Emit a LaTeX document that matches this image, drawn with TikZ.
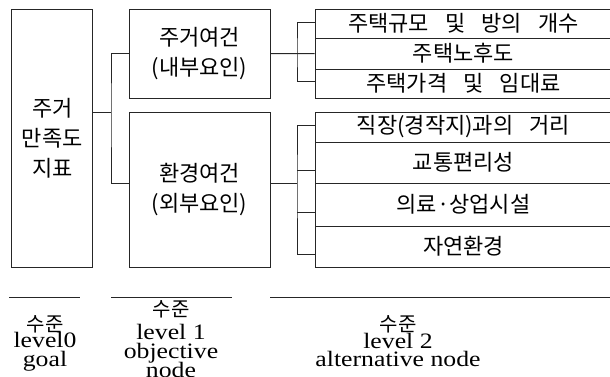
\documentclass[tikz,border=0pt]{standalone}
\usepackage{fontspec}
\newfontfamily\kr{Noto Sans CJK KR}[WordSpace=3.3]
\newfontfamily\lat{Liberation Serif}[FakeStretch=1.17]
\begin{document}
\begin{tikzpicture}[x=1pt,y=-1pt,
  ln/.style={draw=black!85,line width=1pt},
  bx/.style={ln,rectangle,inner sep=0pt,align=center,font=\kr\fontsize{22}{30}\selectfont},
  kl/.style={inner sep=0pt,anchor=base,font=\kr\fontsize{20}{20}\selectfont},
  ll/.style={inner sep=0pt,anchor=base,font=\lat\fontsize{22}{22}\selectfont}]
\useasboundingbox (0,0) rectangle (610,376);
% level 0
\node[bx,minimum width=81.3pt,minimum height=258pt] (goal) at (52.3,138) {주거\\만족도\\지표};
% level 1
\node[bx,minimum width=141pt,minimum height=89pt] (o1) at (199.5,53.5) {주거여건\\(내부요인)};
\node[bx,minimum width=141pt,minimum height=155pt] (o2) at (199.5,189.5) {환경여건\\(외부요인)};
% level 2
\node[bx,minimum width=297pt,minimum height=29.3pt] (a1) at (463.5,23.65) {주택규모 및 방의 개수};
\node[bx,minimum width=297pt,minimum height=30.7pt] (a2) at (463.5,53.65) {주택노후도};
\node[bx,minimum width=297pt,minimum height=29pt] (a3) at (463.5,83.5) {주택가격 및 임대료};
\node[bx,minimum width=297pt,minimum height=30pt] (b1) at (463.5,127) {직장(경작지)과의 거리};
\node[bx,minimum width=297pt,minimum height=41pt] (b2) at (463.5,162.5) {교통편리성};
\node[bx,minimum width=297pt,minimum height=43pt] (b3) at (463.5,204.5) {의료·상업시설};
\node[bx,minimum width=297pt,minimum height=41pt] (b4) at (463.5,246.5) {자연환경};
% connectors level 0 -> 1
\coordinate (j0) at (111,112);
\draw[ln] (goal.east |- j0) -- (j0);
\draw[ln] (o1.west) -| (j0) |- (o2.west |- 0,183);
% connectors level 1 -> 2 (top)
\coordinate (j1) at (297,53.5);
\draw[ln] (o1.east) -- (a2.west);
\draw[ln] (a1.west |- 0,22) -| (j1) |- (a3.west |- 0,81);
% connectors level 1 -> 2 (bottom)
\coordinate (j2) at (297,183);
\draw[ln] (o2.east |- j2) -- (j2);
\draw[ln] (b1.west |- 0,125) -| (j2) |- (b4.west |- 0,254);
\draw[ln] (b2.west |- 0,170) -- (j2 |- 0,170);
\draw[ln] (b3.west |- 0,212) -- (j2 |- 0,212);
% level rules
\coordinate (r0a) at (9,297); \coordinate (r0b) at (80,297);
\coordinate (r1a) at (111,297); \coordinate (r1b) at (232,297);
\coordinate (r2a) at (270,297); \coordinate (r2b) at (612,297);
\draw[ln] (r0a) -- (r0b);
\draw[ln] (r1a) -- (r1b);
\draw[ln] (r2a) -- (r2b);
% level captions
\node[kl] (c0a) at (45,331) {수준};
\node[ll] (c0b) at (45,347) {level0};
\node[ll] (c0c) at (45,366) {goal};
\node[kl] (c1a) at (171,316) {수준};
\node[ll] (c1b) at (171,339) {level 1};
\node[ll] (c1c) at (171,358) {objective};
\node[ll] (c1d) at (171,377) {node};
\node[kl] (c2a) at (398,331) {수준};
\node[ll] (c2b) at (398,348) {level 2};
\node[ll] (c2c) at (398,366) {alternative node};
\end{tikzpicture}
\end{document}
